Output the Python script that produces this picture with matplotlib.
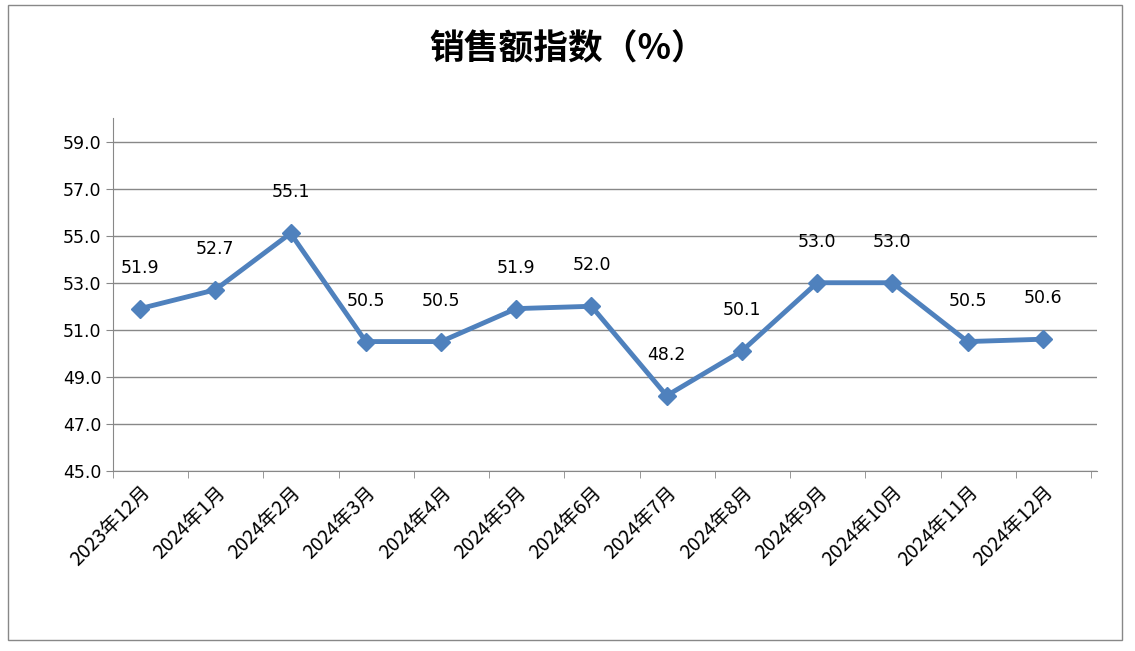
import numpy as np
import matplotlib.pyplot as plt
from matplotlib.patches import Rectangle
from matplotlib.transforms import ScaledTranslation

plt.rcParams['font.family'] = ['Noto Sans CJK SC', 'DejaVu Sans']

months = ['2023年12月', '2024年1月', '2024年2月', '2024年3月', '2024年4月', '2024年5月',
          '2024年6月', '2024年7月', '2024年8月', '2024年9月', '2024年10月', '2024年11月', '2024年12月']
values = [51.9, 52.7, 55.1, 50.5, 50.5, 51.9, 52.0, 48.2, 50.1, 53.0, 53.0, 50.5, 50.6]
yticks = [45, 47, 49, 51, 53, 55, 57, 59]

fig = plt.figure(figsize=(11.35, 6.51), dpi=100)
fig.patches.append(Rectangle((8/1135, 1-640/651), 1114/1135, 635/651, transform=fig.transFigure,
                             fill=False, edgecolor='#888888', linewidth=1))
ax = fig.add_axes([113/1135, 1-471/651, 984/1135, 353/651])

x = np.arange(len(values))
ax.plot(x, values, color='#4F81BD', linewidth=3.5, marker='D', markersize=9)
for xi, v in zip(x, values):
    ax.annotate('%.1f' % v, (xi, v), xytext=(0, 23), textcoords='offset points',
                ha='center', va='bottom', fontsize=12.5, family=['DejaVu Sans'])

ax.set_ylim(45, 60)
ax.set_xlim(-0.36, 12.72)
ax.set_yticks(yticks)
ax.set_yticklabels(['%.1f' % t for t in yticks], fontsize=12.5, family=['DejaVu Sans'])
ax.set_xticks(x)
ax.set_xticklabels(months, rotation=45, ha='right', rotation_mode='anchor', fontsize=14)
for lbl in ax.get_xticklabels():
    lbl.set_transform(lbl.get_transform() + ScaledTranslation(0.18, 0, fig.dpi_scale_trans))
ax.tick_params(axis='x', length=0, pad=8)
ax.set_xticks(np.arange(-0.36, 12.8, 1.0), minor=True)
ax.tick_params(axis='x', which='minor', length=5, color='#888888')
ax.tick_params(axis='y', length=5, color='#888888')
ax.grid(axis='y', color='#888888', linewidth=1)
ax.set_axisbelow(True)
for s in ['top', 'right']:
    ax.spines[s].set_visible(False)
for s in ['left', 'bottom']:
    ax.spines[s].set_color('#888888')

fig.text(0.5, 0.925, '销售额指数（%）', ha='center', va='center', fontsize=25, fontweight='bold')

fig.savefig('out.png', dpi=100)
